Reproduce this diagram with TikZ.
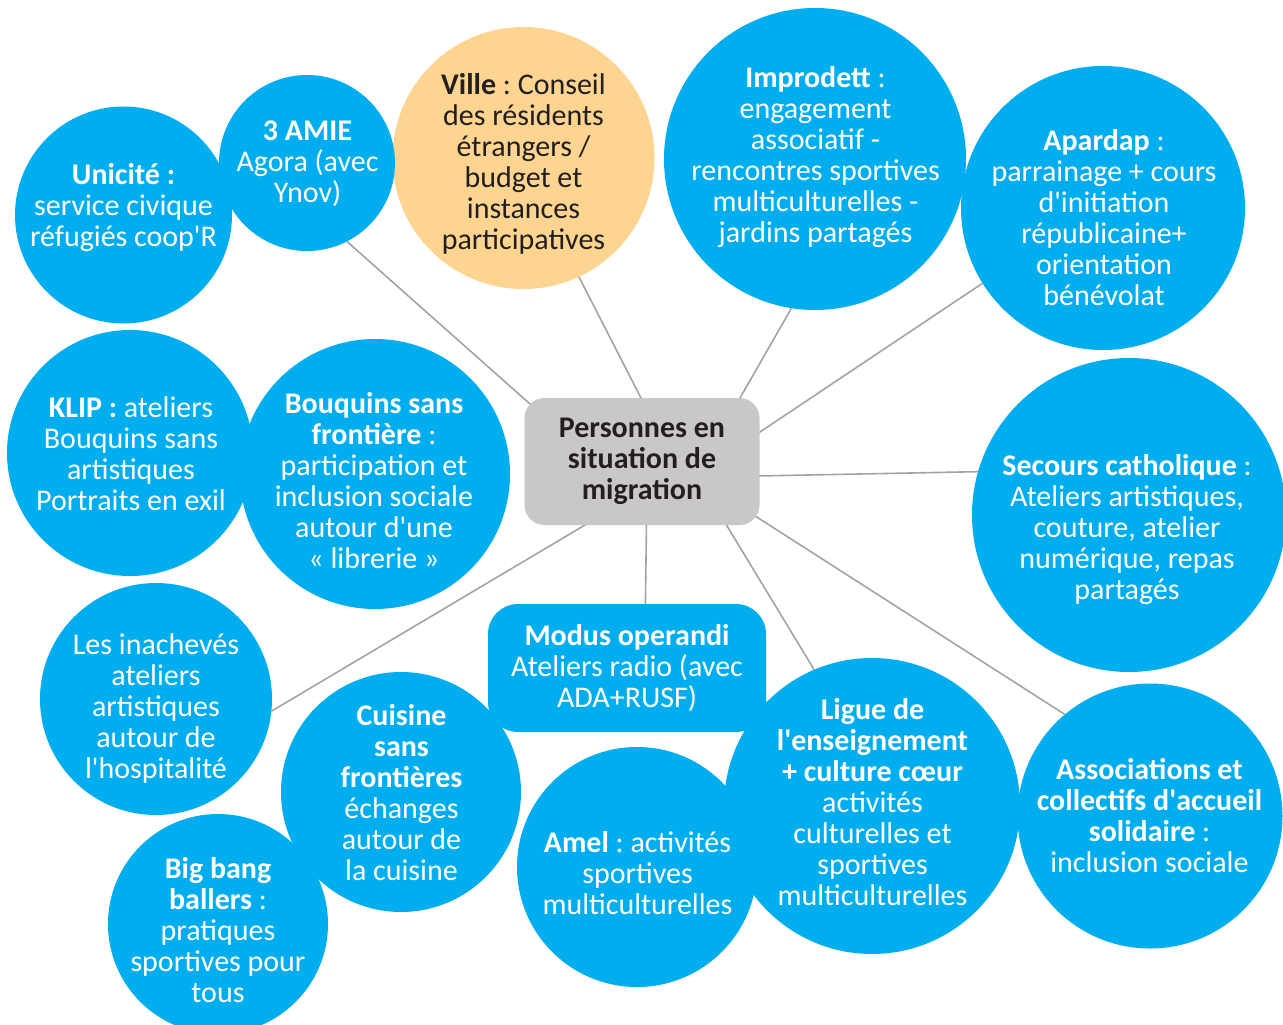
\documentclass[tikz,border=0pt]{standalone}
\usepackage{fontspec}
\setmainfont{Carlito}
\usetikzlibrary{backgrounds}
\frenchspacing

\definecolor{bulle}{HTML}{00AEEF}
\definecolor{orangeville}{HTML}{FDD590}
\definecolor{grishub}{HTML}{C9C7C8}
\definecolor{encre}{HTML}{231F20}
\definecolor{lien}{HTML}{A3A3A3}

\begin{document}
\begin{tikzpicture}[
x=1pt, y=-1pt,
bubble/.style={
  circle,
  fill=bulle,
  draw=none,
  inner sep=0pt
  },
box/.style={
  rectangle,
  draw=none,
  inner sep=0pt,
  align=center,
  font=\fontsize{30}{31}\selectfont
  },
txt/.style={
  text=white,
  align=center,
  inner sep=0pt,
  font=\fontsize{30}{31}\selectfont
  },
link/.style={
  draw=lien,
  line width=1.6pt,
  shorten <=-8pt
  }
]
\useasboundingbox (0,0) rectangle (1283,1025);

\node[bubble, fill=orangeville, minimum size=262] (ville) at (523.5,158) {};
\node[bubble, minimum size=176] (amie) at (307,163) {};
\node[bubble, minimum size=217] (unicite) at (123.5,215) {};
\node[bubble, minimum size=302] (improdett) at (815,159) {};
\node[bubble, minimum size=284] (apardap) at (1103,208) {};
\node[bubble, minimum size=246] (klip) at (130,453) {};
\node[bubble, minimum size=270] (bouquins) at (375,474) {};
\node[bubble, minimum size=314] (secours) at (1129,515) {};
\node[bubble, minimum size=232] (inacheves) at (156,699) {};
\node[box, fill=bulle, text=white, rounded corners=30pt,
      minimum width=278, minimum height=128] (modus) at (627,668)
  {\textbf{Modus operandi}\\Ateliers radio (avec\\ADA+RUSF)};
\node[bubble, minimum size=240] (cuisine) at (401,792) {};
\node[bubble, minimum size=220] (bigbang) at (218,924) {};
\node[bubble, minimum size=240] (amel) at (637,867) {};
\node[bubble, minimum size=296] (ligue) at (872,806) {};
\node[bubble, minimum size=265] (assoc) at (1150,816) {};
\node[box, fill=grishub, text=encre, font=\fontsize{30}{31}\selectfont\bfseries,
      rounded corners=20pt, minimum width=235, minimum height=127] (hub) at (642,461.5)
  {Personnes en\\situation de\\migration};

\node[txt] (unicite-t) at (123.5,208)
  {\textbf{Unicité :}\\service civique\\réfugiés coop\textquotesingle R};
\node[txt] (amie-t) at (307.5,164)
  {\textbf{3 AMIE}\\Agora (avec\\Ynov)};
\node[txt, text=encre] (ville-t) at (523.5,163.5)
  {\textbf{Ville} : Conseil\\des résidents\\étrangers /\\budget et\\instances\\participatives};
\node[txt] (improdett-t) at (815.5,157)
  {\textbf{Improdett} :\\engagement\\associatif -\\rencontres sportives\\multiculturelles -\\jardins partagés};
\node[txt] (apardap-t) at (1104,218)
  {\textbf{Apardap} :\\parrainage + cours\\d\textquotesingle initiation\\républicaine+\\orientation\\bénévolat};
\node[txt] (klip-t) at (131,454)
  {\textbf{KLIP :} ateliers\\Bouquins sans\\artistiques\\Portraits en exil};
\node[txt] (bouquins-t) at (374,481)
  {\textbf{Bouquins sans}\\\textbf{frontière} :\\participation et\\inclusion sociale\\autour d\textquotesingle une\\« librerie »};
\node[txt] (secours-t) at (1127,529.5)
  {\textbf{Secours catholique} :\\Ateliers artistiques,\\couture, atelier\\numérique, repas\\partagés};
\node[txt] (inacheves-t) at (156,708.5)
  {Les inachevés\\ateliers\\artistiques\\autour de\\l\textquotesingle hospitalité};
\node[txt] (cuisine-t) at (401.5,792.5)
  {\textbf{Cuisine}\\\textbf{sans}\\\textbf{frontières}\\échanges\\autour de\\la cuisine};
\node[txt] (bigbang-t) at (218,930.5)
  {\textbf{Big bang}\\\textbf{ballers} :\\pratiques\\sportives pour\\tous};
\node[txt] (amel-t) at (637.5,873)
  {\textbf{Amel} : activités\\sportives\\multiculturelles};
\node[txt] (ligue-t) at (872.5,802)
  {\textbf{Ligue de}\\\textbf{l\textquotesingle enseignement}\\\textbf{+ culture cœur}\\activités\\culturelles et\\sportives\\multiculturelles};
\node[txt] (assoc-t) at (1149.5,815.5)
  {\textbf{Associations et}\\\textbf{collectifs d\textquotesingle accueil}\\\textbf{solidaire} :\\inclusion sociale};

\begin{pgfonlayer}{background}
\foreach \a/\b in {152/amie.297, 91/ville.295, 33/improdett.261, 14/apardap.212,
                   353/secours.164, 334/assoc.130, 323/ligue.113, 274/modus.74,
                   228/inacheves.354}
  \draw[link] (hub.\a) -- (\b);
\end{pgfonlayer}

\end{tikzpicture}
\end{document}
